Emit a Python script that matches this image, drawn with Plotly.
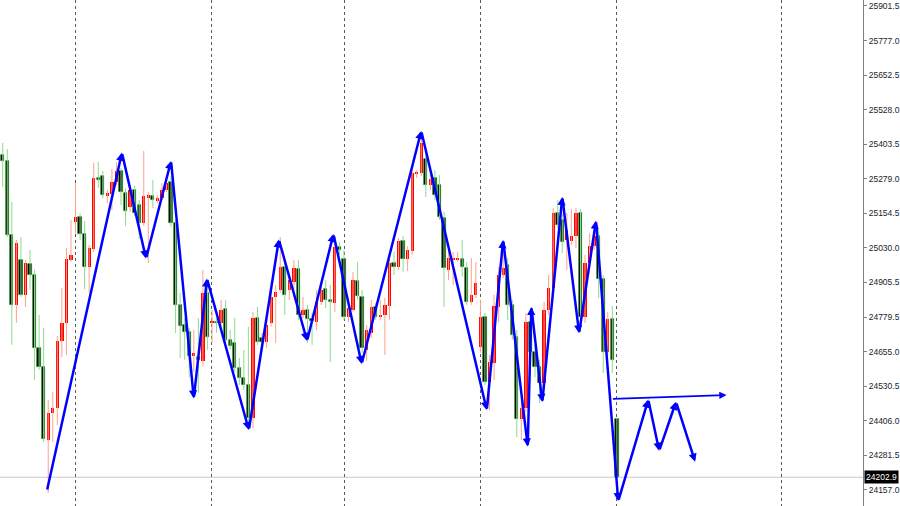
import plotly.graph_objects as go

color_up_body = 'rgb(255, 0, 0)'
color_up_wick = 'rgb(255, 160, 135)'
color_down_body = 'rgb(0, 0, 0)'
color_down_edge = 'rgb(30, 150, 30)'
color_down_wick = 'rgb(140, 220, 140)'
color_arrow = 'rgb(0, 0, 255)'
color_axis = 'rgb(128, 128, 128)'

# ---------------------------------------------- candles
opens = [25364, 25343, 25076, 24824, 24986, 24860, 24972, 24932, 24669, 24600,
         24337, 24435, 24453, 24694, 24759, 24986, 25123, 25141, 25080, 24961,
         25026, 25282, 25289, 25220, 25224, 25267, 25307, 25227, 25177, 25238,
         25184, 25119, 25213, 25217, 25202, 25209, 25238, 25267, 25119, 24824,
         24752, 24726, 24640, 24636, 24622, 24867, 24759, 24762, 24759, 24809,
         24698, 24687, 24597, 24561, 24535, 24417, 24777, 24705, 24690, 24759,
         24853, 24878, 24961, 24878, 24907, 24954, 24788, 24806, 24773, 24762,
         24835, 24881, 24842, 24831, 25033, 24990, 24781, 24806, 24910, 24853,
         24662, 24723, 24817, 24781, 24788, 24820, 24975, 24961, 25054, 24990,
         25018, 25296, 25300, 25350, 25256, 25282, 25256, 25137, 24950, 24986,
         24986, 24990, 24957, 24835, 24860, 24672, 24781, 24546, 24615, 24817,
         24932, 24968, 24824, 24708, 24413, 24453, 24762, 24655, 24600, 24543,
         24806, 24885, 25155, 25130, 25058, 25054, 25072, 25155, 24781, 24975,
         25036, 25072, 24917, 24655, 24773, 24413]
highs = [25408, 25386, 25195, 25058, 25069, 24986, 25022, 24950, 24788, 24741,
         24481, 24510, 24712, 24885, 25029, 25130, 25263, 25155, 25126, 25040,
         25336, 25339, 25307, 25238, 25314, 25339, 25318, 25245, 25256, 25253,
         25202, 25379, 25231, 25274, 25220, 25263, 25282, 25289, 25130, 24867,
         24777, 24741, 24734, 24777, 24950, 24914, 24806, 24777, 24842, 24842,
         24734, 24777, 24633, 24662, 24745, 24799, 24817, 24723, 24770, 24878,
         24896, 25069, 24986, 24932, 24986, 24986, 24853, 24824, 24795, 24878,
         24903, 24914, 24896, 25069, 25051, 25022, 24842, 24943, 24979, 24878,
         24752, 24842, 24831, 24842, 24849, 24993, 25015, 25065, 25072, 25036,
         25310, 25310, 25429, 25382, 25310, 25310, 25292, 25159, 25022, 25015,
         25015, 25058, 24979, 24993, 24979, 24842, 24795, 24644, 24860, 24961,
         25040, 24993, 24842, 24734, 24481, 24795, 24806, 24680, 24626, 24835,
         24932, 25173, 25202, 25152, 25155, 25170, 25173, 25170, 25004, 25083,
         25094, 25094, 24932, 24799, 24820, 24417]
lows = [25249, 25069, 24680, 24759, 24853, 24817, 24878, 24553, 24590, 24330,
        24146, 24330, 24391, 24636, 24644, 24979, 25083, 25058, 24881, 24867,
        25015, 25245, 25209, 25191, 25166, 25256, 25184, 25108, 25159, 25145,
        25062, 25108, 24975, 25173, 25191, 25202, 25231, 25105, 24723, 24633,
        24626, 24564, 24582, 24507, 24604, 24662, 24687, 24723, 24748, 24687,
        24662, 24582, 24535, 24517, 24398, 24380, 24680, 24669, 24669, 24745,
        24687, 24867, 24788, 24842, 24878, 24770, 24777, 24687, 24680, 24734,
        24824, 24813, 24618, 24799, 25004, 24770, 24762, 24799, 24842, 24651,
        24622, 24705, 24770, 24770, 24644, 24770, 24932, 24950, 24943, 24946,
        25004, 25282, 25289, 25213, 25238, 25202, 25130, 24817, 24914, 24896,
        24979, 24925, 24824, 24824, 24849, 24651, 24535, 24445, 24553, 24762,
        24921, 24770, 24698, 24348, 24337, 24438, 24644, 24564, 24471, 24517,
        24788, 24871, 25101, 25011, 24950, 25040, 25029, 24770, 24759, 24957,
        25022, 24849, 24579, 24644, 24579, 24202.9]
closes = [25343, 25076, 24824, 25047, 24860, 24975, 24932, 24669, 24600, 24341,
          24435, 24453, 24694, 24759, 24990, 25004, 25141, 25080, 24961, 25029,
          25282, 25274, 25220, 25227, 25267, 25307, 25231, 25163, 25238, 25155,
          25119, 25217, 25220, 25202, 25209, 25238, 25263, 25119, 24824, 24748,
          24726, 24640, 24651, 24626, 24867, 24708, 24766, 24759, 24806, 24698,
          24676, 24597, 24561, 24535, 24417, 24777, 24690, 24690, 24752, 24853,
          24871, 24961, 24860, 24914, 24957, 24788, 24806, 24773, 24766, 24835,
          24878, 24842, 24835, 25033, 25022, 24781, 24813, 24914, 24856, 24669,
          24734, 24817, 24781, 24788, 24824, 24975, 24961, 25054, 24990, 25022,
          25300, 25300, 25408, 25256, 25278, 25220, 25141, 24957, 24993, 24993,
          24993, 24961, 24835, 24860, 24903, 24781, 24546, 24618, 24820, 24932,
          24957, 24824, 24716, 24413, 24453, 24762, 24655, 24600, 24543, 24806,
          24885, 25155, 25112, 25051, 25094, 25072, 25155, 24781, 24975, 25036,
          25072, 24917, 24655, 24773, 24626, 24202.9]
last_price = 24202.9

# ---------------------------------------------- zigzag drawn on top (bar index, price)
zigzag_x = [9.7, 26.2, 31.5, 37.0, 42.0, 44.9, 54.1, 60.7, 66.9, 72.7, 78.9, 92.0,
            106.4, 110.0, 115.4, 116.2, 118.6, 123.0, 126.7, 130.4, 135.3, 141.9,
            144.3, 148.0, 152.2]
zigzag_y = [24153, 25373, 24991, 25343, 24487, 24919, 24373, 25060, 24694, 25080,
            24611, 25451, 24445, 25058, 24314, 24817, 24474, 25213, 24722, 25127,
            24117, 24483, 24298, 24475, 24259]
level_x = [133.8, 159.1]
level_y = [24485, 24499]

# ---------------------------------------------- axes
y_tickvals = [25901.5, 25777.0, 25652.5, 25528.0, 25403.5, 25279.0, 25154.5, 25030.0,
              24905.5, 24779.5, 24655.0, 24530.5, 24406.0, 24281.5, 24157.0]
y_ticktext = ['%.1f' % v for v in y_tickvals]
grid_x = [15.9, 45.8, 75.2, 105.1, 135.0, 171.1]


# ----------------------------------------------
def split_candles():
    """
    Returns wick segments and body rectangles, split into up and down candles
    """
    parts = {'up': {'wx': [], 'wy': [], 'x': [], 'base': [], 'h': []},
             'down': {'wx': [], 'wy': [], 'x': [], 'base': [], 'h': []}}
    for i in range(len(opens)):
        kind = 'up' if closes[i] >= opens[i] else 'down'
        p = parts[kind]
        p['wx'] += [i, i, None]
        p['wy'] += [lows[i], highs[i], None]
        p['x'].append(i)
        p['base'].append(min(opens[i], closes[i]))
        p['h'].append(max(abs(closes[i] - opens[i]), 3))
    return parts


parts = split_candles()

fig = go.Figure()

fig.add_trace(go.Scatter(x=parts['up']['wx'], y=parts['up']['wy'], mode='lines',
                         line=dict(color=color_up_wick, width=1), hoverinfo='skip'))
fig.add_trace(go.Scatter(x=parts['down']['wx'], y=parts['down']['wy'], mode='lines',
                         line=dict(color=color_down_wick, width=1), hoverinfo='skip'))

fig.add_trace(go.Bar(x=parts['up']['x'], y=parts['up']['h'], base=parts['up']['base'],
                     width=0.72, marker_color=color_up_body, marker_line_width=0))
fig.add_trace(go.Bar(x=parts['down']['x'], y=parts['down']['h'], base=parts['down']['base'],
                     width=0.72, marker_color=color_down_body,
                     marker_line_color=color_down_edge, marker_line_width=0.7))

# current price line
fig.add_shape(type='line', xref='paper', x0=0, x1=1, y0=last_price, y1=last_price,
              line=dict(color='rgb(200, 200, 200)', width=1), layer='below')
fig.add_annotation(xref='paper', x=1, xanchor='left', xshift=1, y=last_price, yanchor='middle',
                   text='%.1f' % last_price, showarrow=False, bgcolor='black', borderpad=1,
                   font=dict(family='Liberation Sans', size=8.5, color='white'))

# arrows: each segment ends with an arrow head
for i in range(len(zigzag_x) - 1):
    fig.add_annotation(x=zigzag_x[i + 1], y=zigzag_y[i + 1], ax=zigzag_x[i], ay=zigzag_y[i],
                       xref='x', yref='y', axref='x', ayref='y', text='', showarrow=True,
                       arrowhead=2, arrowsize=0.65, arrowwidth=2.5, arrowcolor=color_arrow, standoff=0)
fig.add_annotation(x=level_x[1], y=level_y[1], ax=level_x[0], ay=level_y[0],
                   xref='x', yref='y', axref='x', ayref='y', text='', showarrow=True,
                   arrowhead=2, arrowsize=0.8, arrowwidth=1.8, arrowcolor=color_arrow, standoff=0)

fig.update_layout(
    width=900, height=506,
    margin=dict(l=0, r=37, t=0, b=0, pad=0, autoexpand=False),
    plot_bgcolor='white', paper_bgcolor='white',
    showlegend=False, barmode='overlay', bargap=0,
    xaxis=dict(range=[-0.6, 189.1], tickvals=grid_x, showticklabels=False, ticks='',
               showgrid=True, gridcolor='rgb(90, 90, 90)', gridwidth=1, griddash='dot',
               zeroline=False, showline=False, automargin=False),
    yaxis=dict(side='right', range=[24099.3, 25923.1], tickvals=y_tickvals, ticktext=y_ticktext,
               showgrid=False, zeroline=False, showline=True, linecolor=color_axis, linewidth=1,
               ticks='outside', ticklen=3, tickcolor=color_axis, automargin=False,
               tickfont=dict(family='Liberation Sans', size=8.5, color='rgb(30, 30, 30)')),
)

# the page body has a default 8px margin, which would shift the figure
fig.write_html("out.html", config={'displayModeBar': False},
               post_script="document.body.style.margin = '0';")
